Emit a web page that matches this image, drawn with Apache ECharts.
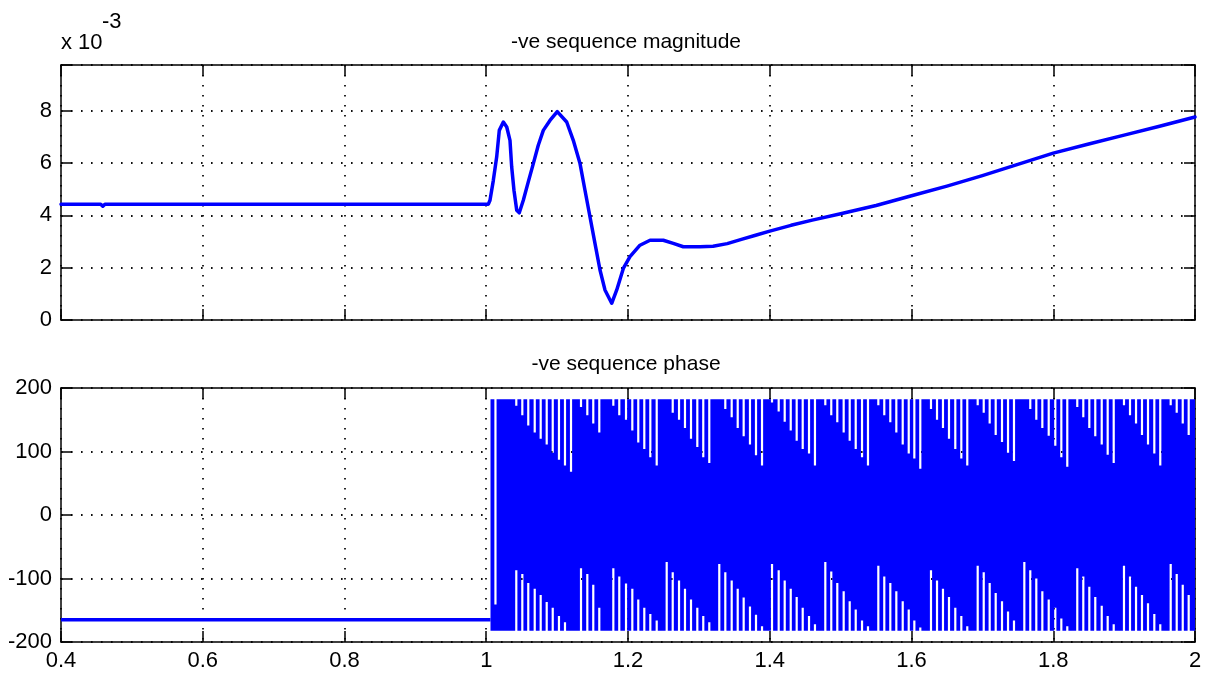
<!DOCTYPE html>
<html>
<head>
<meta charset="utf-8">
<title>-ve sequence magnitude and phase</title>
<script src="https://cdn.jsdelivr.net/npm/echarts@6/dist/echarts.min.js"></script>
<style>
  html, body { margin: 0; padding: 0; background: #fff; }
  #chart { width: 1210px; height: 676px; }
</style>
</head>
<body>
<div id="chart"></div>
<script>
// ---- tick labels ----
const timeTicks = [0.4, 0.6, 0.8, 1.0, 1.2, 1.4, 1.6, 1.8, 2.0];   // s
const magTicks = [0, 2, 4, 6, 8];                                 // x 10^-3
const magAxisTop = 9.75;                                          // x 10^-3
const phaseTicks = [-200, -100, 0, 100, 200];                     // deg

// ---- negative sequence magnitude (x 10^-3) ----
const magTime = [0.400, 0.456, 0.459, 0.462, 1.003, 1.0053, 1.0100, 1.0147, 1.0184, 1.0241,
  1.0289, 1.0335, 1.0359, 1.0391, 1.0430, 1.0466, 1.0523, 1.0593, 1.0664, 1.0734, 1.0805,
  1.0899, 1.1002, 1.1135, 1.1228, 1.1323, 1.1393, 1.1464, 1.1534, 1.1605, 1.1675, 1.1770,
  1.1841, 1.1934, 1.2028, 1.2169, 1.2311, 1.2498, 1.2639, 1.2780, 1.3016, 1.32, 1.34, 1.36,
  1.38, 1.40, 1.43, 1.46, 1.50, 1.55, 1.60, 1.65, 1.70, 1.75, 1.80, 1.85, 1.90, 1.95, 2.00];
const magValue = [4.43, 4.43, 4.35, 4.43, 4.43, 4.58, 5.34, 6.23, 7.25, 7.57,
  7.38, 6.87, 5.85, 4.96, 4.20, 4.10, 4.58, 5.28, 5.98, 6.68, 7.25,
  7.63, 7.97, 7.57, 6.87, 5.98, 4.96, 3.94, 2.93, 1.91, 1.15, 0.64,
  1.15, 1.97, 2.42, 2.86, 3.05, 3.05, 2.93, 2.80, 2.80, 2.82, 2.92, 3.08,
  3.24, 3.40, 3.62, 3.82, 4.06, 4.38, 4.75, 5.12, 5.52, 5.95, 6.38, 6.73, 7.07, 7.41, 7.76];

// ---- negative sequence phase (deg) ----
// steady value before the disturbance
const phaseSteadyTime = [0.400, 1.006];
const phaseSteadyValue = [-165, -165];
// after 1.006 s the wrapped angle swings over the full range
const swingSpan = [1.006, 2.0];
const swingRange = [-180, 180];
// instants where the swing does not reach the full range: highest / lowest value reached
const dipTime = [1.0130,
  1.0424, 1.0509, 1.0593, 1.0684, 1.0768, 1.0853, 1.0938, 1.1026, 1.1111, 1.1196,
  1.1337, 1.1426, 1.1510, 1.1595,
  1.1793, 1.1877, 1.1972, 1.2061, 1.2145, 1.2230, 1.2315, 1.2405,
  1.2546, 1.2631, 1.2720, 1.2804, 1.2889, 1.2978, 1.3062, 1.3147,
  1.3288, 1.3373, 1.3463, 1.3548, 1.3632, 1.3721, 1.3806, 1.3891,
  1.4032, 1.4126, 1.4211, 1.4296, 1.4380, 1.4465, 1.4554, 1.4638,
  1.4784, 1.4868, 1.4953, 1.5043, 1.5128, 1.5213, 1.5302, 1.5386,
  1.5532, 1.5616, 1.5701, 1.5786, 1.5876, 1.5961, 1.6040, 1.6124,
  1.6275, 1.6360, 1.6444, 1.6529, 1.6618, 1.6703, 1.6787,
  1.6934, 1.7019, 1.7103, 1.7188, 1.7277, 1.7362, 1.7446,
  1.7592, 1.7676, 1.7761, 1.7846, 1.7936, 1.8029, 1.8114, 1.8198,
  1.8339, 1.8424, 1.8509, 1.8593, 1.8684, 1.8768, 1.8853,
  1.8998, 1.9083, 1.9168, 1.9252, 1.9337, 1.9426, 1.9510,
  1.9657, 1.9742, 1.9827, 1.9911];
const dipHigh = [-141,
  172, 157, 141, 130, 120, 111, 98, 87, 78, 68,
  170, 157, 144, 130,
  172, 157, 150, 133, 114, 104, 91, 78,
  180, 161, 150, 137, 120, 107, 91, 82,
  180, 167, 154, 137, 124, 111, 94, 78,
  177, 163, 147, 133, 117, 104, 97, 78,
  173, 157, 146, 130, 117, 104, 91, 78,
  173, 157, 146, 130, 111, 97, 89, 73,
  167, 150, 137, 120, 104, 89, 78,
  173, 161, 144, 126, 115, 98, 85,
  180, 167, 150, 137, 125, 109, 91, 76,
  170, 154, 137, 124, 111, 95, 82,
  173, 157, 144, 126, 111, 97, 78,
  173, 161, 144, 126];
const dipLow = [-180,
  -87, -93, -107, -116, -126, -137, -146, -159, -169, -180,
  -84, -93, -110, -146,
  -84, -97, -108, -116, -133, -146, -156, -166,
  -74, -90, -103, -116, -133, -146, -159, -169,
  -77, -90, -103, -116, -130, -144, -157, -175,
  -77, -87, -103, -116, -129, -146, -159, -172,
  -74, -89, -107, -120, -136, -149, -166, -175,
  -80, -97, -107, -120, -136, -149, -166, -177,
  -87, -103, -116, -129, -146, -159, -175,
  -80, -90, -107, -123, -136, -152, -166,
  -74, -87, -100, -120, -133, -146, -163, -175,
  -84, -97, -113, -129, -143, -159, -172,
  -80, -97, -113, -126, -139, -156, -172,
  -77, -93, -110, -126];

const BLUE = '#0000ff';
const FONT = '"Liberation Sans", Arial, Helvetica, sans-serif';
const axisLineStyle = { color: '#000', width: 1.5 };
const gridDots = { color: '#111', width: 1.8, type: [1.6, 8.4] };

function pairs(xs, ys) { return xs.map((x, i) => [x, ys[i]]); }
function isTick(list) { return v => list.some(t => Math.abs(t - v) < 1e-9); }

function xAxisFor(gridIndex, position, labels, grid) {
  return {
    type: 'value', gridIndex, position,
    min: timeTicks[0], max: timeTicks[timeTicks.length - 1], interval: 0.2,
    axisLine: { show: true, onZero: false, lineStyle: axisLineStyle },
    axisTick: { show: true, inside: true, length: 11, lineStyle: axisLineStyle },
    axisLabel: labels ? {
      show: true, color: '#000', fontSize: 22, fontFamily: FONT, margin: 8,
      formatter: v => isTick(timeTicks)(v) ? String(+v.toFixed(1)) : ''
    } : { show: false },
    splitLine: { show: grid, lineStyle: gridDots }
  };
}

function yAxisFor(gridIndex, position, min, max, interval, ticks, labels, grid) {
  return {
    type: 'value', gridIndex, position, min, max, interval,
    axisLine: { show: true, onZero: false, lineStyle: axisLineStyle },
    axisTick: { show: true, inside: true, length: 11, lineStyle: axisLineStyle },
    axisLabel: labels ? {
      show: true, color: '#000', fontSize: 22, fontFamily: FONT, margin: 9,
      formatter: v => isTick(ticks)(v) ? String(v) : ''
    } : { show: false },
    splitLine: { show: grid, lineStyle: gridDots }
  };
}

// Full-range swing of the wrapped phase, with the instants where it falls short
function renderSwing(params, api) {
  const tl = api.coord([swingSpan[0], swingRange[1]]);
  const br = api.coord([swingSpan[1], swingRange[0]]);
  const top = tl[1] - 1.5, bottom = br[1] + 1.5, w = 1.1;
  const pts = [[tl[0], top]];
  for (let i = 0; i < dipTime.length; i++) {
    if (dipHigh[i] >= swingRange[1]) continue;
    const p = api.coord([dipTime[i], dipHigh[i]]);
    pts.push([p[0] - w, top], [p[0] - w, p[1]], [p[0] + w, p[1]], [p[0] + w, top]);
  }
  pts.push([br[0], top], [br[0], bottom]);
  for (let i = dipTime.length - 1; i >= 0; i--) {
    if (dipLow[i] <= swingRange[0]) continue;
    const p = api.coord([dipTime[i], dipLow[i]]);
    pts.push([p[0] + w, bottom], [p[0] + w, p[1]], [p[0] - w, p[1]], [p[0] - w, bottom]);
  }
  pts.push([tl[0], bottom]);
  return { type: 'polygon', shape: { points: pts }, style: { fill: BLUE } };
}

const chart = echarts.init(document.getElementById('chart'), null, { renderer: 'canvas' });
chart.setOption({
  animation: false,
  backgroundColor: '#fff',
  grid: [
    { left: 61, right: 15, top: 65, height: 255 },
    { left: 61, right: 15, top: 388, height: 254 }
  ],
  xAxis: [
    xAxisFor(0, 'bottom', false, true),
    xAxisFor(0, 'top', false, false),
    xAxisFor(1, 'bottom', true, true),
    xAxisFor(1, 'top', false, false)
  ],
  yAxis: [
    yAxisFor(0, 'left', magTicks[0], magAxisTop, 2, magTicks, true, true),
    yAxisFor(0, 'right', magTicks[0], magAxisTop, 2, magTicks, false, false),
    yAxisFor(1, 'left', phaseTicks[0], phaseTicks[phaseTicks.length - 1], 100, phaseTicks, true, true),
    yAxisFor(1, 'right', phaseTicks[0], phaseTicks[phaseTicks.length - 1], 100, phaseTicks, false, false)
  ],
  graphic: [
    { type: 'text', x: 626, y: 42, style: { text: '-ve sequence magnitude', font: '21px ' + FONT, fill: '#000', textAlign: 'center', textVerticalAlign: 'middle', align: 'center', verticalAlign: 'middle' } },
    { type: 'text', x: 626, y: 364, style: { text: '-ve sequence phase', font: '21px ' + FONT, fill: '#000', textAlign: 'center', textVerticalAlign: 'middle', align: 'center', verticalAlign: 'middle' } },
    { type: 'text', x: 61, y: 43, style: { text: 'x 10', font: '22px ' + FONT, fill: '#000', textAlign: 'left', textVerticalAlign: 'middle', align: 'left', verticalAlign: 'middle' } },
    { type: 'text', x: 102, y: 22, style: { text: '-3', font: '22px ' + FONT, fill: '#000', textAlign: 'left', textVerticalAlign: 'middle', align: 'left', verticalAlign: 'middle' } }
  ],
  series: [
    {
      name: '-ve sequence magnitude', type: 'line', xAxisIndex: 0, yAxisIndex: 0,
      data: pairs(magTime, magValue), showSymbol: false, clip: true,
      lineStyle: { color: BLUE, width: 3.5, join: 'round', cap: 'round' }
    },
    {
      name: '-ve sequence phase', type: 'line', xAxisIndex: 2, yAxisIndex: 2,
      data: pairs(phaseSteadyTime, phaseSteadyValue), showSymbol: false, clip: true,
      lineStyle: { color: BLUE, width: 3.5 }
    },
    {
      name: '-ve sequence phase swing', type: 'custom', xAxisIndex: 2, yAxisIndex: 2,
      data: [[swingSpan[0], swingSpan[1]]], encode: { x: [0, 1] },
      renderItem: renderSwing, clip: true, silent: true
    }
  ]
});
</script>
</body>
</html>
